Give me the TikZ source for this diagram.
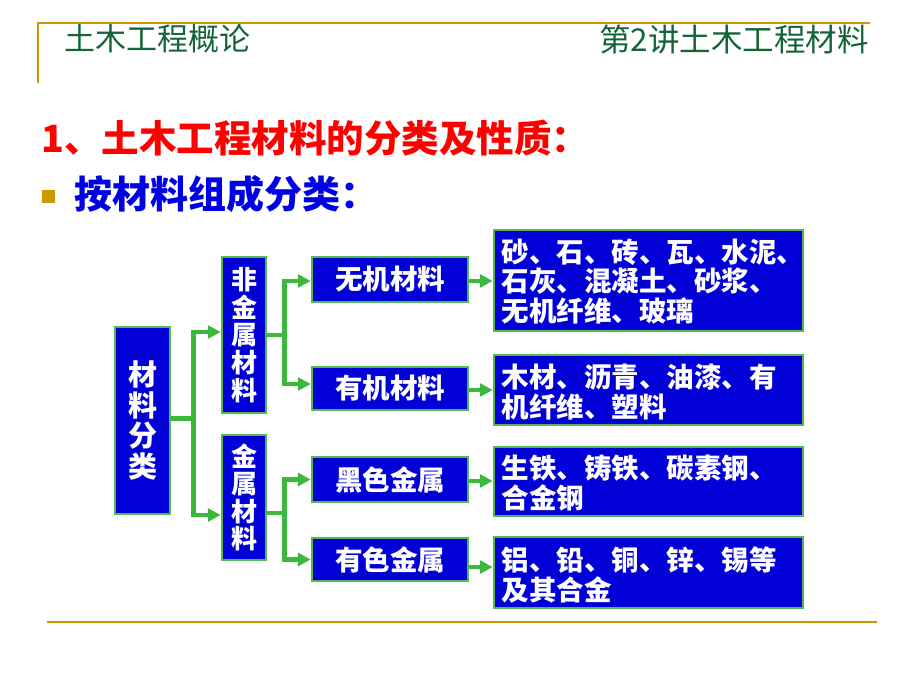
\documentclass[tikz,border=0pt]{standalone}
\usepackage{fontspec}
\setmainfont{Noto Sans CJK SC}
\usetikzlibrary{arrows.meta,calc}
\definecolor{gold}{RGB}{204,153,0}
\definecolor{hdrgreen}{RGB}{20,100,55}
\definecolor{boxblue}{RGB}{0,0,215}
\definecolor{boxgreen}{RGB}{80,185,80}
\definecolor{arrgreen}{RGB}{60,185,60}
\definecolor{ttlred}{RGB}{255,0,0}
\definecolor{ttlblue}{RGB}{0,0,230}
\begin{document}
\begin{tikzpicture}[x=1pt,y=-1pt,
  bx/.style={draw=boxgreen,line width=2.5pt,fill=boxblue,inner sep=0pt,text=white,font=\bfseries\fontsize{26}{27.6}\selectfont,align=center},
  mbx/.style={bx,minimum width=156pt,font=\bfseries\fontsize{27.5}{27.5}\selectfont},
  txt/.style={inner sep=0pt,text=white,font=\bfseries\fontsize{27.5}{29.5}\selectfont,align=left,anchor=west},
  conn/.style={draw=arrgreen,line width=4.5pt},
  arr/.style={conn,-{Triangle[length=13pt,width=13pt]}}
]
\useasboundingbox (0,0) rectangle (920,690);
% header
\coordinate (hl1) at (38,23);
\coordinate (hl2) at (870,23);
\coordinate (hv) at (38,83);
\draw[gold,line width=2.5pt] (hv) -- (hl1) -- (hl2);
\node[anchor=west,inner sep=0pt,text=hdrgreen,font=\fontsize{31}{31}\selectfont] (h1) at (64,39) {土木工程概论};
\node[anchor=east,inner sep=0pt,text=hdrgreen,font=\fontsize{31.5}{31.5}\selectfont] (h2) at (869,39) {第2讲土木工程材料};
% titles
\node[anchor=west,inner sep=0pt,text=ttlred,font=\bfseries\fontsize{37.5}{37.5}\selectfont] (t1) at (41,138) {1、土木工程材料的分类及性质：};
\node[fill=gold,minimum size=13pt,inner sep=0pt] (bul) at (48.5,196.5) {};
\node[anchor=west,inner sep=0pt,text=ttlblue,font=\bfseries\fontsize{38}{38}\selectfont] (t2) at (74,194) {按材料组成分类：};
% boxes
\node[bx,minimum width=55pt,minimum height=187pt,font=\bfseries\fontsize{29}{30.5}\selectfont] (root) at (142.5,420.5) {材\\料\\分\\类};
\node[bx,minimum width=44pt,minimum height=156pt] (nm) at (244,335) {非\\金\\属\\材\\料};
\node[bx,minimum width=44pt,minimum height=125pt] (me) at (244,497.5) {金\\属\\材\\料};
\node[mbx,minimum height=45pt] (ino) at (390,279.5) {无机材料};
\node[mbx,minimum height=43pt] (org) at (390,388.5) {有机材料};
\node[mbx,minimum height=45pt] (fer) at (390,479.5) {黑色金属};
\node[mbx,minimum height=43pt] (nfe) at (390,559.5) {有色金属};
\node[bx,minimum width=309pt,minimum height=101pt] (r1) at (648.5,280.5) {};
\node[bx,minimum width=309pt,minimum height=70pt] (r2) at (648.5,390) {};
\node[bx,minimum width=309pt,minimum height=69pt] (r3) at (648.5,481.5) {};
\node[bx,minimum width=309pt,minimum height=71pt] (r4) at (648.5,572.5) {};
\node[txt] (r1t) at ($(r1.west)+(9,1)$) {砂、石、砖、瓦、水泥、\\石灰、混凝土、砂浆、\\无机纤维、玻璃};
\node[txt] (r2t) at ($(r2.west)+(9,2)$) {木材、沥青、油漆、有\\机纤维、塑料};
\node[txt] (r3t) at ($(r3.west)+(9,1.5)$) {生铁、铸铁、碳素钢、\\合金钢};
\node[txt] (r4t) at ($(r4.west)+(9,2.5)$) {铝、铅、铜、锌、锡等\\及其合金};
% connectors
\coordinate (j1) at ($(root.east)+(22,-2)$);
\draw[conn] ($(root.east)+(0,-2)$) -- (j1);
\draw[arr] (j1) |- ($(nm.west)+(0,-3)$);
\draw[arr] (j1) |- ($(me.west)+(0,17.5)$);
\coordinate (j2) at ($(nm.east)+(17,0)$);
\draw[conn] (nm.east) -- (j2);
\draw[arr] (j2) |- ($(ino.west)+(0,1.5)$);
\draw[arr] (j2) |- ($(org.west)+(0,-4.5)$);
\coordinate (j3) at ($(me.east)+(17,15.5)$);
\draw[conn] ($(me.east)+(0,15.5)$) -- (j3);
\draw[arr] (j3) |- (fer.west);
\draw[arr] (j3) |- (nfe.west);
\draw[arr] ($(ino.east)+(0,1.5)$) -- ($(r1.west)+(0,0.5)$);
\draw[arr] ($(org.east)+(0,1.5)$) -- (r2.west);
\draw[arr] ($(fer.east)+(0,1.5)$) -- ($(r3.west)+(0,-0.5)$);
\draw[arr] ($(nfe.east)+(0,7.5)$) -- ($(r4.west)+(0,-5.5)$);
% bottom line
\coordinate (b1) at (47,622);
\coordinate (b2) at (877,622);
\draw[gold,line width=2.5pt] (b1) -- (b2);
\end{tikzpicture}
\end{document}
